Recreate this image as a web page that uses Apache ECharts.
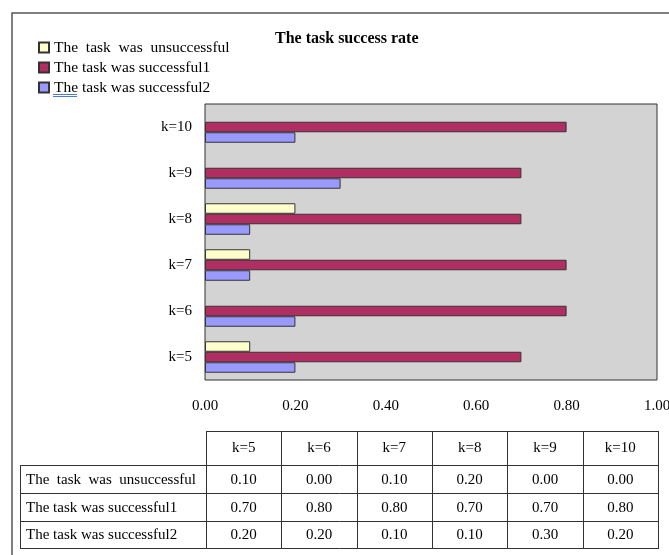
<!DOCTYPE html>
<html>
<head>
<meta charset="utf-8">
<script src="https://cdn.jsdelivr.net/npm/echarts@6/dist/echarts.min.js"></script>
<style>
  html, body { margin: 0; padding: 0; background: #fff; }
  #main { width: 669px; height: 555px; }
</style>
</head>
<body>
<div id="main"></div>
<script>
// data
var categories = ['k=5', 'k=6', 'k=7', 'k=8', 'k=9', 'k=10'];
var seriesNames = ['The  task  was  unsuccessful', 'The task was successful1', 'The task was successful2'];
var unsuccessful = [0.10, 0.00, 0.10, 0.20, 0.00, 0.00];
var successful1 = [0.70, 0.80, 0.80, 0.70, 0.70, 0.80];
var successful2 = [0.20, 0.20, 0.10, 0.10, 0.30, 0.20];
var xMin = 0, xMax = 1, xStep = 0.2;

var colors = ['#FFFFCC', '#B22E62', '#9999FF'];
var font = 'Liberation Serif';
var values = [unsuccessful, successful1, successful2];

// plot box
var G = { left: 205, top: 104, width: 452, height: 276 };

// zero bars are not drawn in the original
function barData(arr) {
  return arr.map(function (v) { return v === 0 ? '-' : v; });
}

// data table under the chart, built from the arrays
function buildTable() {
  var els = [];
  var x0 = 20, colL = 206, colR = 658;
  var colW = (colR - colL) / categories.length;
  var headTop = 431, headBot = 465;
  var rowTops = [465, 493, 521, 548];
  var line = { stroke: '#333', lineWidth: 1 };
  function hline(x1, x2, y) {
    els.push({ type: 'line', shape: { x1: x1, y1: y + 0.5, x2: x2, y2: y + 0.5 }, style: line, silent: true });
  }
  function vline(x, y1, y2) {
    els.push({ type: 'line', shape: { x1: x + 0.5, y1: y1, x2: x + 0.5, y2: y2 }, style: line, silent: true });
  }
  function txt(s, x, y, align) {
    els.push({ type: 'text', x: x, y: y, silent: true,
      style: { text: s, fill: '#000', font: '15px "' + font + '"', align: align, verticalAlign: 'middle' } });
  }
  // header
  hline(colL, colR + 1, headTop);
  for (var c = 0; c <= categories.length; c++) {
    var cx = Math.round(colL + c * colW);
    vline(cx, headTop, rowTops[rowTops.length - 1] + 1);
    if (c < categories.length) txt(categories[c], colL + (c + 0.5) * colW, (headTop + headBot) / 2, 'center');
  }
  // body
  for (var r = 0; r < rowTops.length; r++) hline(x0, colR + 1, rowTops[r]);
  vline(x0, rowTops[0], rowTops[rowTops.length - 1] + 1);
  for (var s = 0; s < seriesNames.length; s++) {
    var cy = (rowTops[s] + rowTops[s + 1]) / 2 + 1;
    txt(seriesNames[s], x0 + 6, cy, 'left');
    for (var k = 0; k < categories.length; k++) {
      txt(values[s][k].toFixed(2), colL + (k + 0.5) * colW, cy, 'center');
    }
  }
  return els;
}

var graphics = [
  { type: 'rect', shape: { x: 12, y: 13, width: 700, height: 600 }, style: { fill: 'none', stroke: '#555', lineWidth: 1.5 }, silent: true, z: -10 },
  // spell-check underline under "The" in the legend
  { type: 'line', shape: { x1: 53, y1: 94.5, x2: 77, y2: 94.5 }, style: { stroke: '#4A7BD0', lineWidth: 1 }, silent: true },
  { type: 'line', shape: { x1: 53, y1: 96.5, x2: 77, y2: 96.5 }, style: { stroke: '#4A7BD0', lineWidth: 1 }, silent: true }
].concat(buildTable());

var chart = echarts.init(document.getElementById('main'));
chart.setOption({
  animation: false,
  textStyle: { fontFamily: font },
  title: {
    text: 'The task success rate',
    left: 275, top: 31, padding: 0,
    textStyle: { fontFamily: font, fontSize: 16, fontWeight: 'bold', color: '#000' }
  },
  legend: {
    orient: 'vertical',
    left: 38, top: 39, padding: 0,
    itemWidth: 10, itemHeight: 10, itemGap: 3,
    icon: 'rect',
    data: seriesNames,
    textStyle: { fontFamily: font, fontSize: 15.5, color: '#000', lineHeight: 17 }
  },
  grid: {
    left: G.left, top: G.top, width: G.width, height: G.height,
    outerBoundsMode: 'none', containLabel: false,
    show: true, backgroundColor: '#D3D3D3', borderColor: '#333', borderWidth: 1
  },
  xAxis: {
    type: 'value', min: xMin, max: xMax, interval: xStep,
    axisLine: { show: false }, axisTick: { show: false }, splitLine: { show: false },
    axisLabel: { margin: 19, fontFamily: font, fontSize: 15, color: '#000',
      formatter: function (v) { return v.toFixed(2); } }
  },
  yAxis: {
    type: 'category', data: categories,
    axisLine: { show: false }, axisTick: { show: false },
    axisLabel: { margin: 13, fontFamily: font, fontSize: 15, color: '#000' }
  },
  series: seriesNames.map(function (name, i) {
    return {
      name: name, type: 'bar',
      data: barData(values[i]),
      barWidth: 10.5, barGap: '0%',
      itemStyle: { color: colors[i], borderColor: '#333', borderWidth: 1 }
    };
  }),
  graphic: graphics
});
</script>
</body>
</html>
